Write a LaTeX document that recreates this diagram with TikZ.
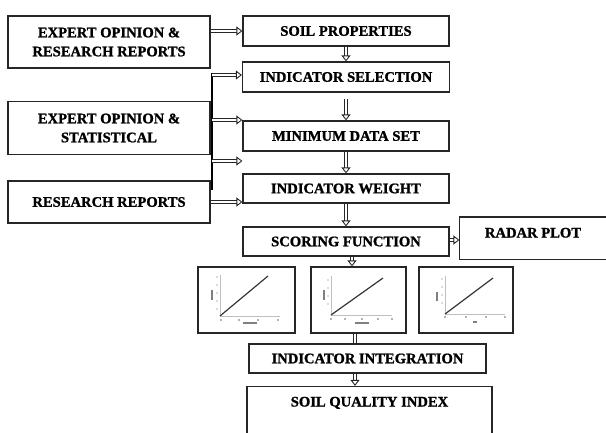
\documentclass[tikz,border=0pt]{standalone}
\usepackage{fontspec}
\setmainfont{Liberation Serif}[BoldFeatures={FakeBold=1.2}]
\usetikzlibrary{arrows.meta}
\begin{document}
\begin{tikzpicture}[x=1pt,y=-1pt,
  box/.style={draw=black!85, line width=1.2pt, inner sep=0pt, font=\fontsize{14.6}{19}\selectfont\bfseries, align=center},
  openbox/.style={box, draw=none},
  boxline/.style={draw=black!85, line width=1.2pt},
  plotbox/.style={draw=black!85, line width=1.2pt, inner sep=0pt, minimum height=66pt},
  dar/.style={double=white, draw=black!85, line width=0.8pt, double distance=2.6pt, -{Triangle[open, length=6pt, width=9pt, line width=0.9pt]}},
  dln/.style={double=white, draw=black!85, line width=0.8pt, double distance=2.6pt},
  barline/.style={line width=2.4pt, draw=black},
  axisline/.style={draw=black!25, line width=0.5pt},
  fitline/.style={draw=black!80, line width=1.2pt},
  tick/.style={fill=black!60},
  smear/.style={draw=black!50, line width=1.2pt}
]
\useasboundingbox (0,0) rectangle (606,432);
\clip (0,0) rectangle (606,432);

% left column
\node[box, minimum width=202pt, minimum height=52pt] (eorr) at (109,42) {EXPERT OPINION \&\\RESEARCH REPORTS};
\node[box, minimum width=202pt, minimum height=53pt] (eost) at (109,128) {EXPERT OPINION \&\\STATISTICAL};
\node[box, minimum width=202pt, minimum height=42pt] (rr) at (109,202) {RESEARCH REPORTS};

% centre column
\node[box, minimum width=206pt, minimum height=30pt] (sp) at (346,31) {SOIL PROPERTIES};
\node[box, minimum width=207pt, minimum height=30pt] (is) at (346,77) {INDICATOR SELECTION};
\node[box, minimum width=206pt, minimum height=30pt] (mds) at (346,136) {MINIMUM DATA SET};
\node[box, minimum width=206pt, minimum height=29pt] (iw) at (346,188.5) {INDICATOR WEIGHT};
\node[box, minimum width=206pt, minimum height=29pt] (sf) at (346,241.5) {SCORING FUNCTION};
\node[openbox, minimum width=146pt, text height=15pt, text depth=16pt, inner ysep=5pt] (radar) at (533,238) {RADAR PLOT};
\draw[boxline] ([xshift=20pt]radar.north east) -- (radar.north west) -- (radar.south west) -- ([xshift=20pt]radar.south east);

% plots
\node[plotbox, minimum width=97pt] (p1) at (246.5,300) {};
\node[plotbox, minimum width=95pt] (p2) at (358.5,300) {};
\node[plotbox, minimum width=94pt] (p3) at (466,300) {};

\node[box, minimum width=237pt, minimum height=29pt] (ii) at (367.5,358.5) {INDICATOR INTEGRATION};
\node[box, minimum width=245pt, text height=15pt, text depth=40pt, inner ysep=5pt] (sqi) at (369.5,419) {SOIL QUALITY INDEX};

% plot contents
\draw[axisline] (220,275) -- (220,316) -- (280,316);
\draw[fitline] (220,316) -- (268,276);
\foreach \x in {221,239,258,278} \fill[tick] (\x,320) circle (0.9pt);
\foreach \y in {277,285,293,301,309} \fill[tick] (217,\y) circle (0.6pt);
\draw[smear] (243,323) -- (257,323);
\draw[smear] (212,290) -- (212,300);

\draw[axisline] (331,276) -- (331,315) -- (392,315);
\draw[fitline] (331,315) -- (383,278);
\foreach \x in {331,345,362,378,392} \fill[tick] (\x,319) circle (0.9pt);
\foreach \y in {280,288,296,304} \fill[tick] (328,\y) circle (0.6pt);
\draw[smear] (355,323) -- (369,323);
\draw[smear] (324,290) -- (324,300);

\draw[axisline] (445,276) -- (445,314) -- (505,314);
\draw[fitline] (445,314) -- (493,278);
\foreach \x in {445,466,486,505} \fill[tick] (\x,317) circle (0.9pt);
\foreach \y in {279,287,295,303} \fill[tick] (442,\y) circle (0.6pt);
\draw[smear] (473,322) -- (477,322);
\draw[smear] (437,292) -- (437,301);

% left connectors
\coordinate (bt) at (212,73);
\coordinate (bb) at (212,190);
\coordinate (a1) at (212,75);
\coordinate (a2) at (212,120);
\coordinate (a3) at (212,161);
\draw[barline] (bt) -- (bb);
\draw[dar] (eorr.east |- sp) -- (sp.west);
\draw[dar] (a1) -- (a1 -| is.west);
\draw[dar] (a2) -- (a2 -| mds.west);
\draw[dar] (a3) -- (a3 -| mds.west);
\draw[dar] (rr.east) -- (rr.east -| iw.west);

% centre connectors
\draw[dar] (sp.south) -- (is.north);
\draw[dar] ([yshift=-6pt]is.south) -- (mds.north);
\draw[dar] (mds.south) -- (iw.north);
\draw[dar] (iw.south) -- (sf.north);
\draw[dar] ([xshift=6pt]sf.south) -- ([xshift=6pt]sf.south |- p2.north);
\draw[dar] ([yshift=1.5pt]sf.east) -- ([yshift=1.5pt]sf.east -| radar.west);
\coordinate (c1) at (355,333);
\draw[dln] (c1 |- p2.south) -- (c1 |- ii.north);
\draw[dar] (c1 |- ii.south) -- (c1 |- sqi.north);
\end{tikzpicture}
\end{document}
